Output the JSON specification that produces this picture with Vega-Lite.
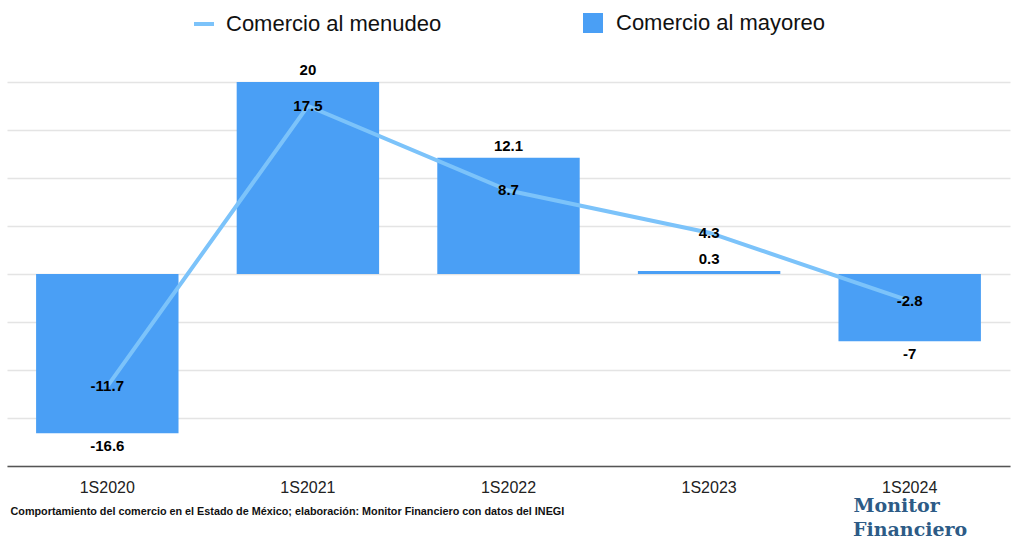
{
  "$schema": "https://vega.github.io/schema/vega-lite/v6.json",
  "autosize": "none",
  "width": 1003,
  "height": 384,
  "padding": {"left": 7, "top": 82, "right": 14, "bottom": 77},
  "background": "white",
  "config": {
    "view": {"stroke": null},
    "font": "Liberation Sans",
    "legend": {"padding": 0}
  },
  "title": {
    "text": "Financiero",
    "orient": "bottom",
    "anchor": "start",
    "frame": "group",
    "font": "DejaVu Serif",
    "fontWeight": "bold",
    "fontSize": 19,
    "color": "#2d5b86",
    "align": "left",
    "baseline": "top",
    "offset": 0,
    "dx": 846,
    "dy": 5
  },
  "data": {
    "values": [
      {"periodo": "1S2020", "menudeo": -11.7, "mayoreo": -16.6},
      {"periodo": "1S2021", "menudeo": 17.5, "mayoreo": 20},
      {"periodo": "1S2022", "menudeo": 8.7, "mayoreo": 12.1},
      {"periodo": "1S2023", "menudeo": 4.3, "mayoreo": 0.3},
      {"periodo": "1S2024", "menudeo": -2.8, "mayoreo": -7}
    ]
  },
  "encoding": {
    "x": {
      "field": "periodo",
      "type": "ordinal",
      "sort": null,
      "scale": {"paddingInner": 0.29, "paddingOuter": 0.145},
      "axis": {
        "labelAngle": 0,
        "labelFontSize": 16,
        "labelColor": "#222222",
        "labelPadding": 13,
        "domainColor": "#555555",
        "domainWidth": 1.5,
        "ticks": false,
        "grid": false,
        "title": "Comportamiento del comercio en el Estado de México; elaboración: Monitor Financiero con datos del INEGI",
        "titleFontSize": 10.8,
        "titleFontWeight": "bold",
        "titleColor": "#111111",
        "titleAnchor": "start",
        "titleAlign": "left",
        "titleBaseline": "middle",
        "titleX": 3,
        "titleY": 45
      }
    }
  },
  "layer": [
    {
      "mark": {"type": "bar", "color": "#4a9ff5"},
      "encoding": {
        "y": {
          "field": "mayoreo",
          "type": "quantitative",
          "scale": {"domain": [-20, 20], "nice": false},
          "axis": {
            "values": [-20, -15, -10, -5, 0, 5, 10, 15, 20],
            "labels": false,
            "ticks": false,
            "domain": false,
            "gridColor": "#e4e4e4",
            "gridWidth": 1.5,
            "title": "Monitor",
            "titleFont": "DejaVu Serif",
            "titleFontWeight": "bold",
            "titleFontSize": 19,
            "titleColor": "#2d5b86",
            "titleAngle": 0,
            "titleAlign": "left",
            "titleBaseline": "top",
            "titleX": 846,
            "titleY": 414
          }
        },
        "fill": {
          "datum": "Comercio al mayoreo",
          "type": "nominal",
          "scale": {"range": ["#4a9ff5"]},
          "legend": {
            "orient": "none",
            "legendX": 575,
            "legendY": -70,
            "title": null,
            "symbolType": "square",
            "symbolSize": 400,
            "symbolStrokeWidth": 0,
            "labelFontSize": 22,
            "labelLimit": 0,
            "labelColor": "#111111",
            "labelOffset": 12
          }
        }
      }
    },
    {
      "mark": {"type": "text", "fontSize": 15, "fontWeight": "bold", "color": "#000000", "baseline": "bottom", "dy": -4},
      "transform": [{"filter": "datum.mayoreo >= 0"}],
      "encoding": {
        "y": {"field": "mayoreo", "type": "quantitative"},
        "text": {"field": "mayoreo", "type": "nominal"}
      }
    },
    {
      "mark": {"type": "text", "fontSize": 15, "fontWeight": "bold", "color": "#000000", "baseline": "top", "dy": 6},
      "transform": [{"filter": "datum.mayoreo < 0"}],
      "encoding": {
        "y": {"field": "mayoreo", "type": "quantitative"},
        "text": {"field": "mayoreo", "type": "nominal"}
      }
    },
    {
      "mark": {"type": "line", "strokeWidth": 4, "color": "#7cc3fa"},
      "encoding": {
        "y": {"field": "menudeo", "type": "quantitative"},
        "stroke": {
          "datum": "Comercio al menudeo",
          "type": "nominal",
          "scale": {"range": ["#7cc3fa"]},
          "legend": {
            "orient": "none",
            "legendX": 185,
            "legendY": -70,
            "title": null,
            "symbolType": "stroke",
            "symbolSize": 400,
            "symbolStrokeWidth": 4,
            "labelFontSize": 22,
            "labelLimit": 0,
            "labelColor": "#111111",
            "labelOffset": 10
          }
        }
      }
    },
    {
      "mark": {"type": "text", "fontSize": 15, "fontWeight": "bold", "color": "#000000", "baseline": "middle"},
      "encoding": {
        "y": {"field": "menudeo", "type": "quantitative"},
        "text": {"field": "menudeo", "type": "nominal"}
      }
    }
  ]
}
